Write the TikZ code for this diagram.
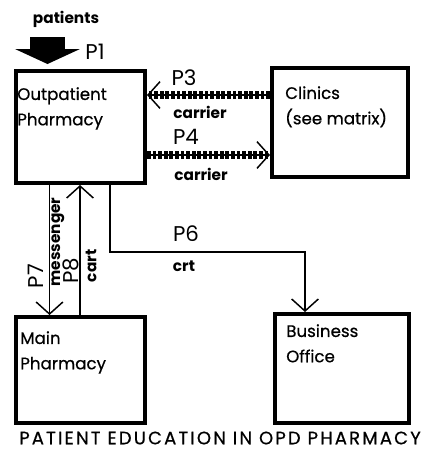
\documentclass[tikz,border=0pt]{standalone}
\usepackage{fontspec}
\setmainfont{Poppins}
\newfontfamily\medfont{Poppins}[FakeBold=0.6]
\usepackage{tikz}
\usetikzlibrary{arrows.meta,positioning,calc}

\begin{document}
\begin{tikzpicture}[
    x=0.75pt, y=-0.75pt,
    box/.style={rectangle, draw, line width=3pt, inner sep=0pt},
    boxtext/.style={anchor=north west, align=left, inner sep=0pt, font=\medfont\fontsize{12.5}{19}\selectfont},
    plabel/.style={font=\fontsize{16}{17}\selectfont, inner sep=0pt},
    via/.style={font=\fontsize{11.5}{13}\selectfont\bfseries, inner sep=0pt},
    flow/.style={line width=1.1pt, -{Straight Barb[length=9pt 0 0, width=20pt 0 0, line width=1.1pt]}},
    carrier/.style={flow, postaction={draw, -, line width=5.5pt, dash pattern=on 2.8pt off 1.4pt}},
    bigarr/.style={line width=26.25pt, -{Triangle[length=11.25pt 0 0, width=48.75pt 0 0, line width=0pt]}},
]
\useasboundingbox (0,0) rectangle (427,455);

% === BOXES ===
\node[box, minimum width=96.75pt, minimum height=84pt]    (out)      at (80.5,127)   {};
\node[box, minimum width=102pt,   minimum height=81.75pt] (clinics)  at (340,122.5)  {};
\node[box, minimum width=96.75pt, minimum height=79.5pt]  (main)     at (80.5,370)   {};
\node[box, minimum width=100.5pt, minimum height=81.75pt] (business) at (342,368.5)  {};

\node[boxtext] (outtxt)  at (17,87)   {Outpatient\\Pharmacy};
\node[boxtext] (clintxt) at (285,86)  {Clinics\\(see matrix)};
\node[boxtext] (maintxt) at (20,331)  {Main\\Pharmacy};
\node[boxtext] (bustxt)  at (286,324) {Business\\Office};

% === P1: patients in ===
\node[via] (patients) at (66,19) {patients};
\coordinate (p1tail) at (47.5,37);
\draw[bigarr] (p1tail) -- ($(p1tail |- out.north)+(0,-5)$);
\node[plabel] (p1) at (95,52) {P1};

% === P3 / P4: clinics ===
\coordinate (p3y) at (0,95);
\coordinate (p4y) at (0,155);
\draw[carrier] (clinics.west |- p3y) -- (out.east |- p3y);
\draw[carrier] (out.east |- p4y) -- (clinics.west |- p4y);
\node[plabel] (p3)  at (184,78)  {P3};
\node[via]    (c3)  at (200,112) {carrier};
\node[plabel] (p4)  at (186,137) {P4};
\node[via]    (c4)  at (201,174) {carrier};

% === P7 / P8: main pharmacy ===
\draw[flow] ($(out.south)+(-31,0)$) -- ($(main.north)+(-31,0)$);
\draw[flow] ($(main.north)+(-0.5,0)$) -- ($(out.south)+(-0.5,0)$);
\node[plabel, rotate=90] (p7)   at (36,276) {P7};
\node[via, rotate=90]    (mess) at (58,242) {messenger};
\node[plabel, rotate=90] (p8)   at (71,271) {P8};
\node[via, rotate=90]    (cart) at (91,266) {cart};

% === P6: business office ===
\coordinate (p6bend) at (305,252);
\draw[flow] ($(out.south)+(29.5,0)$) |- (p6bend) -- (p6bend |- business.north);
\node[plabel] (p6)  at (186,234) {P6};
\node[via]    (crt) at (184,266) {crt};

% === TITLE ===
\node[font=\medfont\fontsize{13.5}{15}\selectfont\addfontfeatures{LetterSpace=12}, inner sep=0pt] (title)
    at (220,438) {PATIENT EDUCATION IN OPD PHARMACY};

\end{tikzpicture}
\end{document}
